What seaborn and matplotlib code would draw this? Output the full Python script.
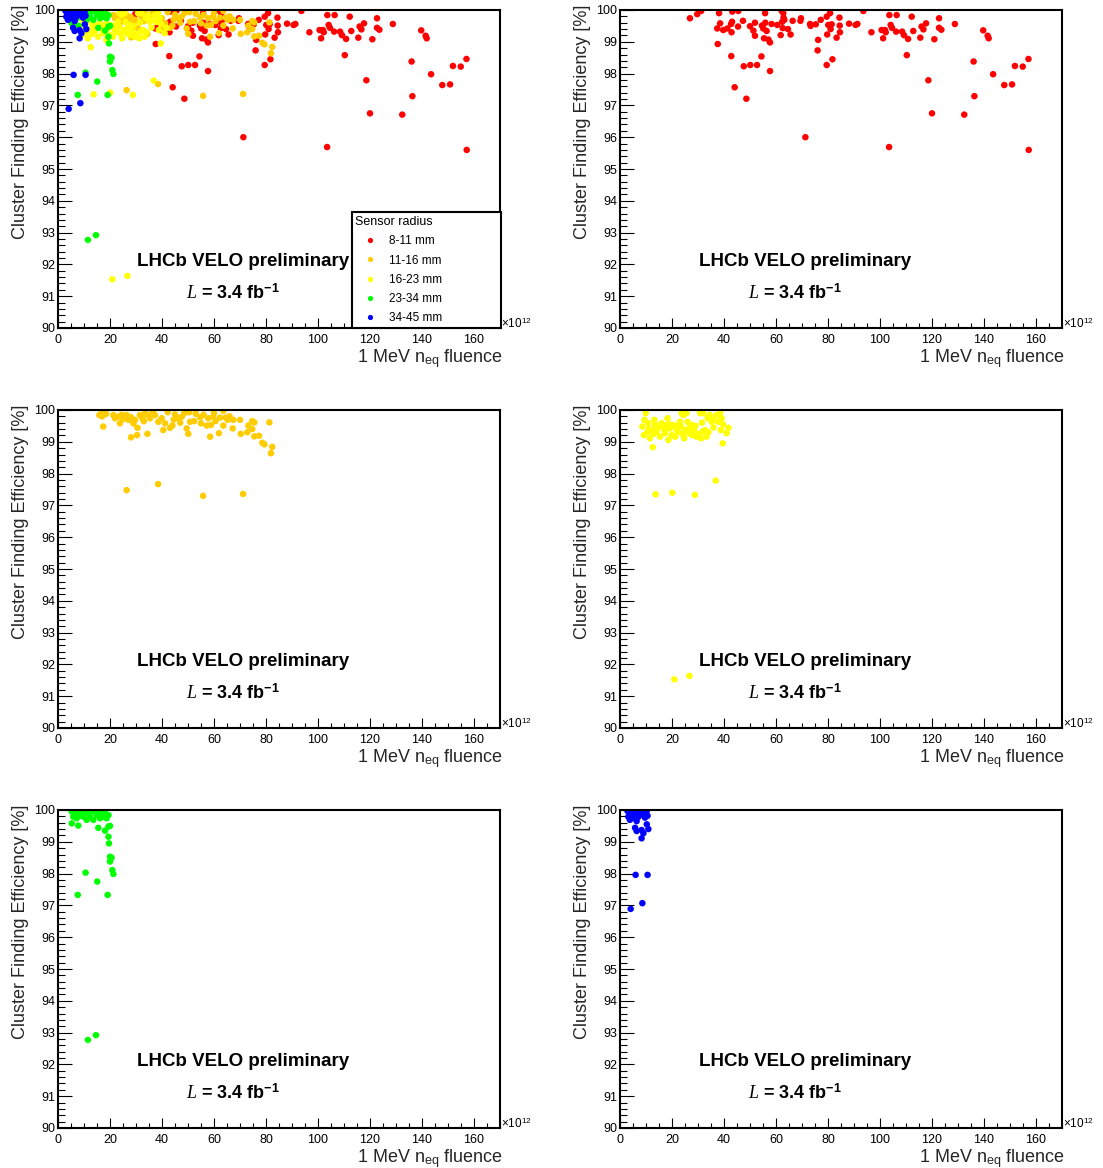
import matplotlib
matplotlib.use("Agg")
import matplotlib.pyplot as plt
from matplotlib.ticker import MultipleLocator
import numpy as np
import pandas as pd
import seaborn as sns

# Fluence in units of 1e12 (1 MeV n_eq / cm^2), efficiency in percent
radius_labels = ["8-11 mm", "11-16 mm", "16-23 mm", "23-34 mm", "34-45 mm"]
radius_colors = ["#FF0000", "#FFCC00", "#FFFF00", "#00FF00", "#0000FF"]

red_fluence = [26.9, 29.7, 31.2, 38.1, 43.2, 45.5, 55.8, 62.2, 62.8, 93.6,
               103.6, 106.4, 112.2, 122.7, 128.8, 69.6, 69.4, 66.4, 62.9, 63.2,
               62.4, 58.3, 60.5, 55.9, 54.6, 55.1, 56.4, 55.4, 57.1, 57.7,
               61.8, 62.6, 64.6, 65.6, 51.9, 50.0, 51.3, 51.9, 47.3, 45.4,
               43.1, 42.7, 42.9, 41.3, 39.7, 38.5, 37.4, 37.6, 42.8, 47.6,
               50.1, 52.7, 54.4, 57.7, 44.1, 48.6, 73.1, 73.3, 75.3, 77.2,
               76.2, 76.0, 79.5, 81.7, 79.5, 80.8, 80.1, 81.4, 81.0, 79.7,
               83.3, 84.6, 84.5, 84.4, 88.1, 90.6, 91.3, 96.7, 100.6, 101.9,
               102.2, 101.2, 104.1, 104.6, 106.2, 108.5, 109.2, 110.8, 110.3, 112.8,
               115.5, 116.0, 116.7, 117.7, 120.9, 122.7, 123.6, 118.6, 120.0, 103.5,
               71.3, 132.4, 136.3, 136.0, 139.7, 141.4, 141.8, 143.5, 147.8, 150.8,
               151.9, 154.9, 157.1, 157.2]
red_eff = [99.74, 99.87, 99.97, 99.90, 99.95, 99.97, 99.90, 99.97, 99.90, 99.97,
           99.84, 99.84, 99.79, 99.74, 99.56, 99.74, 99.66, 99.66, 99.76, 99.69,
           99.63, 99.56, 99.53, 99.60, 99.51, 99.42, 99.34, 99.11, 99.07, 98.98,
           99.21, 99.43, 99.40, 99.23, 99.60, 99.49, 99.35, 99.19, 99.66, 99.48,
           99.63, 99.56, 99.30, 99.42, 99.37, 99.58, 99.42, 98.93, 98.55, 98.23,
           98.27, 98.27, 98.54, 98.08, 97.57, 97.21, 99.56, 99.50, 99.55, 99.69,
           99.06, 98.73, 98.27, 98.45, 99.79, 99.90, 99.53, 99.55, 99.40, 99.23,
           99.13, 99.30, 99.51, 99.76, 99.57, 99.53, 99.56, 99.30, 99.37, 99.37,
           99.30, 99.11, 99.53, 99.44, 99.32, 99.32, 99.21, 99.09, 98.58, 99.34,
           99.13, 99.48, 99.39, 99.58, 99.08, 99.44, 99.38, 97.79, 96.75, 95.69,
           96.00, 96.71, 97.29, 98.38, 99.36, 99.19, 99.11, 97.98, 97.64, 97.66,
           98.24, 98.22, 98.46, 95.60]

orange_fluence = [15.9, 16.8, 17.8, 17.4, 21.3, 21.9, 23.2, 23.8, 25.1, 26.4,
                  27.1, 28.1, 29.0, 29.6, 30.6, 30.4, 31.5, 32.4, 33.5, 34.5,
                  34.4, 35.4, 37.3, 38.6, 39.9, 40.5, 41.2, 42.2, 43.1, 44.0,
                  45.0, 46.3, 47.6, 48.6, 49.5, 50.1, 50.5, 50.8, 52.4, 54.7,
                  55.0, 57.2, 57.8, 58.5, 58.8, 59.7, 60.6, 61.9, 62.3, 63.6,
                  64.5, 63.6, 65.3, 67.2, 67.4, 70.0, 70.3, 72.8, 73.2, 74.7,
                  75.5, 74.7, 75.5, 77.3, 78.6, 79.4, 81.3, 82.4, 81.9, 26.4,
                  38.5, 55.8, 71.2, 17.0, 18.5, 24.5, 28.0, 33.0, 36.5, 44.5,
                  47.0, 53.0, 56.0, 60.0, 66.0]
orange_eff = [99.84, 99.90, 99.95, 99.48, 99.84, 99.74, 99.79, 99.58, 99.72, 99.84,
              99.69, 99.14, 99.58, 99.69, 99.44, 99.21, 99.84, 99.74, 99.90, 99.84,
              99.25, 99.74, 99.84, 99.63, 99.74, 99.37, 99.58, 99.93, 99.44, 99.51,
              99.86, 99.74, 99.79, 99.90, 99.42, 99.25, 99.93, 99.63, 99.65, 99.77,
              99.58, 99.51, 99.74, 99.16, 99.53, 99.79, 99.65, 99.27, 99.76, 99.97,
              99.76, 99.51, 99.69, 99.42, 99.69, 99.69, 99.25, 99.30, 99.51, 99.65,
              99.61, 99.40, 99.17, 99.19, 98.97, 98.92, 99.61, 98.84, 98.64, 97.48,
              97.67, 97.30, 97.36, 99.80, 99.88, 99.85, 99.78, 99.65, 99.92, 99.70,
              99.60, 99.88, 99.85, 99.90, 99.80]

yellow_fluence = [9.9, 9.4, 8.6, 9.2, 10.9, 11.5, 12.6, 12.4, 13.2, 13.5,
                  14.1, 14.7, 15.4, 16.0, 17.1, 17.3, 17.9, 18.3, 18.6, 19.2,
                  19.9, 20.5, 21.2, 21.8, 22.4, 23.1, 23.7, 23.5, 24.4, 24.7,
                  25.6, 25.3, 26.0, 26.5, 27.6, 27.8, 28.6, 29.5, 30.1, 30.8,
                  31.2, 31.7, 32.1, 32.7, 33.3, 33.7, 34.6, 35.3, 35.9, 37.2,
                  37.8, 38.5, 38.8, 39.1, 39.7, 41.0, 41.7, 39.5, 13.7, 20.1,
                  28.8, 36.8, 20.9, 26.7, 11.0, 13.0, 16.5, 19.0, 22.0, 24.0,
                  26.8, 29.0, 31.5, 34.0, 36.0, 10.5]
yellow_eff = [99.90, 99.69, 99.48, 99.21, 99.58, 99.11, 98.83, 99.37, 99.69, 99.53,
              99.32, 99.48, 99.16, 99.58, 99.37, 99.27, 99.53, 99.74, 99.06, 99.42,
              99.21, 99.53, 99.16, 99.37, 99.32, 99.63, 99.90, 99.48, 99.84, 99.11,
              99.90, 99.37, 99.63, 99.27, 99.53, 99.21, 99.34, 99.16, 99.23, 99.90,
              99.11, 99.32, 99.90, 99.37, 99.16, 99.74, 99.84, 99.63, 99.69, 99.84,
              99.63, 99.90, 99.37, 99.74, 99.55, 99.27, 99.44, 98.95, 97.35, 97.40,
              97.33, 97.78, 91.53, 91.64, 99.40, 99.25, 99.45, 99.55, 99.50, 99.25,
              99.45, 99.50, 99.60, 99.30, 99.45, 99.30]

green_fluence = [5.3, 6.5, 7.8, 9.1, 10.4, 11.7, 12.9, 14.2, 15.5, 16.8,
                 18.1, 19.4, 5.9, 7.2, 8.5, 9.7, 11.0, 12.3, 13.6, 14.9,
                 16.2, 17.4, 18.7, 5.3, 7.8, 15.5, 18.1, 19.4, 20.0, 19.4,
                 19.6, 20.0, 20.6, 20.0, 20.9, 21.3, 10.6, 15.1, 7.6, 19.1,
                 11.5, 14.6]
green_eff = [99.95, 99.93, 99.95, 99.97, 99.95, 99.90, 99.95, 99.97, 99.93, 99.95,
             99.90, 99.84, 99.79, 99.74, 99.84, 99.79, 99.69, 99.79, 99.69, 99.84,
             99.74, 99.79, 99.74, 99.58, 99.51, 99.44, 99.35, 99.48, 99.50, 99.16,
             98.95, 98.53, 98.50, 98.38, 98.11, 97.99, 98.03, 97.75, 97.33, 97.33,
             92.77, 92.92]

blue_fluence = [2.9, 3.8, 5.1, 6.4, 7.7, 9.0, 10.3, 3.2, 4.5, 5.8,
                7.1, 8.3, 9.6, 10.6, 3.8, 6.4, 5.8, 6.4, 8.3, 9.0,
                8.3, 10.3, 10.9, 6.0, 10.6, 4.1, 8.6]
blue_eff = [99.97, 99.93, 99.97, 99.95, 99.97, 99.93, 99.97, 99.79, 99.74, 99.84,
            99.79, 99.86, 99.76, 99.82, 99.69, 99.65, 99.44, 99.34, 99.37, 99.27,
            99.11, 99.55, 99.40, 97.96, 97.96, 96.89, 97.07]

x_ticks = [0, 20, 40, 60, 80, 100, 120, 140, 160]
y_ticks = [90, 91, 92, 93, 94, 95, 96, 97, 98, 99, 100]

groups = [(red_fluence, red_eff), (orange_fluence, orange_eff),
          (yellow_fluence, yellow_eff), (green_fluence, green_eff),
          (blue_fluence, blue_eff)]
frames = []
for label, (fl, ef) in zip(radius_labels, groups):
    frames.append(pd.DataFrame({"fluence": fl, "eff": ef, "radius": label}))
df = pd.concat(frames, ignore_index=True)
palette = dict(zip(radius_labels, radius_colors))

sns.set_style("ticks")
plt.rcParams.update({
    "font.family": ["Liberation Sans", "DejaVu Sans"],
    "mathtext.fontset": "custom",
    "mathtext.rm": "Liberation Sans",
    "mathtext.it": "Liberation Serif:italic",
    "mathtext.bf": "Liberation Sans:bold",
    "axes.linewidth": 1.5,
    "axes.edgecolor": "black",
    "text.color": "black",
    "xtick.color": "black",
    "ytick.color": "black",
})

W, H = 1103, 1168
fig = plt.figure(figsize=(W / 100, H / 100), dpi=100)

col_left = [58, 620]
row_top = [10, 410, 810]
ax_w, ax_h = 442, 318

# panel 0: all radii; panels 1-5: one radius each
panel_sets = [radius_labels] + [[r] for r in radius_labels]

for i, sel in enumerate(panel_sets):
    r, c = divmod(i, 2)
    left = col_left[c] / W
    bottom = (H - row_top[r] - ax_h) / H
    ax = fig.add_axes([left, bottom, ax_w / W, ax_h / H])
    sub = df[df["radius"].isin(sel)]
    sns.scatterplot(data=sub, x="fluence", y="eff", hue="radius",
                    hue_order=sel, palette=palette, s=22, linewidth=0,
                    edgecolor="none", alpha=1, ax=ax, legend=(i == 0))
    ax.set_xlim(0, 170)
    ax.set_ylim(90, 100)
    ax.set_xticks(x_ticks)
    ax.set_yticks(y_ticks)
    ax.xaxis.set_minor_locator(MultipleLocator(5))
    ax.yaxis.set_minor_locator(MultipleLocator(0.2))
    ax.tick_params(axis="both", which="both", direction="in",
                   top=False, right=False, width=0.8, labelsize=9)
    ax.tick_params(axis="x", which="major", length=7, pad=4)
    ax.tick_params(axis="x", which="minor", length=3.5)
    ax.tick_params(axis="y", which="major", length=10, pad=2)
    ax.tick_params(axis="y", which="minor", length=5)
    for sp in ax.spines.values():
        sp.set_visible(True)
        sp.set_linewidth(1.5)
    ax.set_ylabel("Cluster Finding Efficiency [%]", loc="top",
                  fontsize=13, labelpad=4)
    ax.yaxis.label.set_y(1.016)
    ax.set_xlabel(r"1 MeV n$_{\mathrm{eq}}$ fluence", loc="right",
                  fontsize=13, labelpad=0.8)
    ax.xaxis.label.set_x(1.007)
    ax.annotate(r"$\times$10$^{12}$", xy=(1.0, 0.0), xycoords="axes fraction",
                xytext=(1, -2.5), textcoords="offset points",
                ha="left", va="bottom", fontsize=8.5)
    ax.text(0.419, 0.208, "LHCb VELO preliminary", transform=ax.transAxes,
            ha="center", va="center", fontsize=13.5, fontweight="bold")
    ax.text(0.396, 0.108, r"$\mathit{L}$ = 3.4 fb$^{\mathbf{-1}}$",
            transform=ax.transAxes, ha="center", va="center",
            fontsize=13, fontweight="bold")
    if i == 0:
        sns.move_legend(ax, loc="lower left",
                        bbox_to_anchor=(0.665, 0.0, 0.337, 0.371),
                        mode="expand", title="Sensor radius",
                        fontsize=8.5, title_fontsize=9, frameon=True,
                        fancybox=False, framealpha=1, borderaxespad=0,
                        alignment="left", markerscale=0.8,
                        handlelength=2.5, handletextpad=0.35,
                        labelspacing=0.62, borderpad=0.3)
        leg = ax.get_legend()
        leg.get_frame().set_edgecolor("black")
        leg.get_frame().set_linewidth(1.5)

fig.savefig("out.png", dpi=100)
